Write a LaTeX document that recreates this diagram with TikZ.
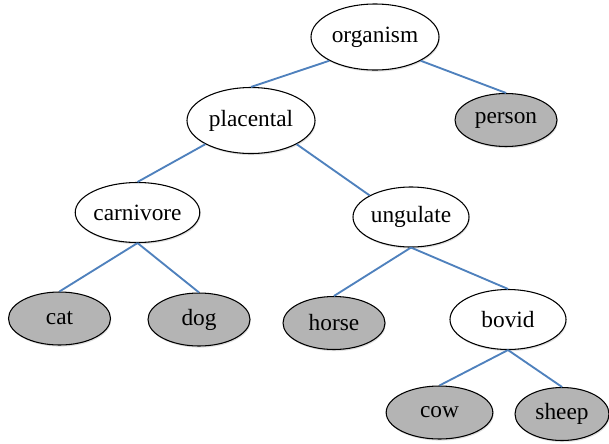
\documentclass[tikz,border=0pt]{standalone}
\usepackage{fontspec}
\setmainfont{Liberation Serif}
\usetikzlibrary{shapes.geometric,shadows}
\definecolor{edgeblue}{RGB}{79,129,189}
\definecolor{leafgray}{RGB}{180,180,180}
\tikzset{
	taxon/.style={ellipse, draw=black, line width=0.8pt, fill=white, inner sep=0pt,
		font=\fontsize{17.5}{20}\selectfont,
		drop shadow={opacity=0.25, shadow xshift=0.6pt, shadow yshift=-1.2pt}},
	leaf/.style={taxon, fill=leafgray},
	bigsize/.style={minimum width=96pt, minimum height=49.5pt},
	midsize/.style={minimum width=87pt, minimum height=45pt},
	smallsize/.style={minimum width=76.5pt, minimum height=39.75pt},
	branch/.style={draw=edgeblue, line width=1.4pt}
}

\begin{document}
\begin{tikzpicture}[x=0.75pt, y=-0.75pt]
				\useasboundingbox (0, 0) rectangle (609, 443);
				
				\node[taxon, bigsize] (organism) at (375, 37) {organism};
				\node[leaf, smallsize] (person) at (506, 120) {person};
				\node[taxon, bigsize] (placental) at (251, 120.5) {placental};
				\node[taxon, midsize] (carnivore) at (137.5, 212.5) {carnivore};
				\node[taxon, midsize] (ungulate) at (411, 217) {ungulate};
				\node[leaf, smallsize] (cat) at (59.5, 318.5) {cat};
				\node[leaf, smallsize] (dog) at (199, 319.5) {dog};
				\node[leaf, smallsize] (horse) at (334, 323) {horse};
				\node[taxon, midsize] (bovid) at (508, 319.5) {bovid};
				\node[leaf, smallsize, minimum width=80pt] (cow) at (439.5, 412.5) {cow};
				\node[leaf, smallsize, minimum width=70.5pt] (sheep) at (562, 414) {sheep};
				
				\draw[branch] (organism.south west) -- (placental.north);
				\draw[branch] (organism.south east) -- (person.north);
				\draw[branch] (placental.south west) -- (carnivore.north);
				\draw[branch] (placental.south east) -- (ungulate.north west);
				\draw[branch] (carnivore.south) -- (cat.north);
				\draw[branch] (carnivore.south) -- (dog.north);
				\draw[branch] (ungulate.south) -- (horse.north);
				\draw[branch] (ungulate.south) -- (bovid.north);
				\draw[branch] (bovid.south) -- (cow.north);
				\draw[branch] (bovid.south) -- (sheep.north);
			\end{tikzpicture}
\end{document}
